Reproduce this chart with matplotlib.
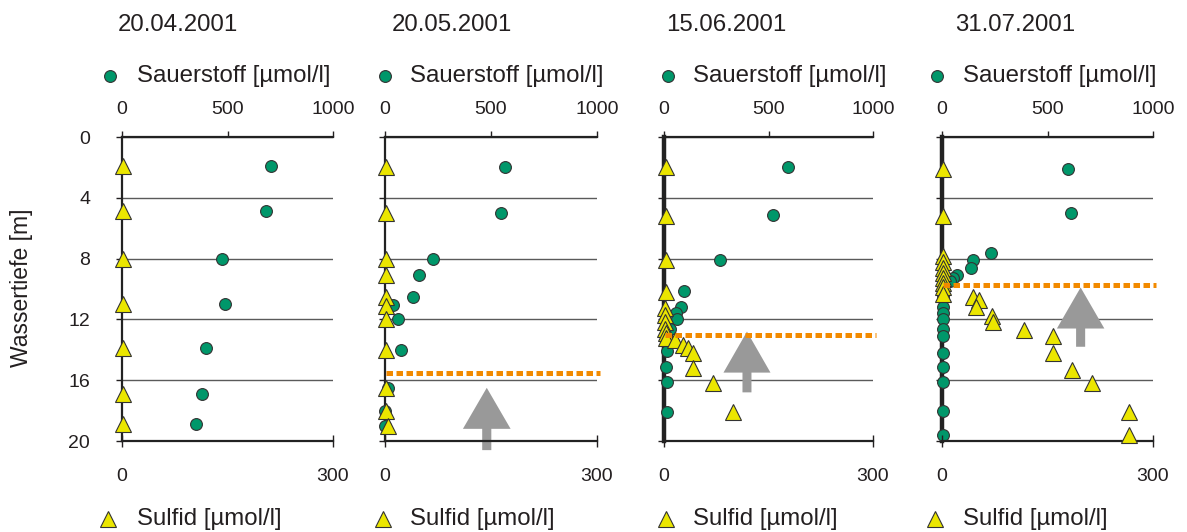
"""Sauerstoff- und Sulfidprofile, vier Termine 2001."""

import matplotlib
matplotlib.use("Agg")
import matplotlib.pyplot as plt
from matplotlib.lines import Line2D
from matplotlib.patches import FancyArrow

plt.rcParams["font.family"] = ["Liberation Sans", "DejaVu Sans"]

W, H = 1187, 532
TEXT = "#231F20"
GREEN = "#00976A"
YELLOW = "#EBE600"
ORANGE = "#F28A00"
ARROW = "#999999"

dates = ["20.04.2001", "20.05.2001", "15.06.2001", "31.07.2001"]

# Sauerstoff [umol/l] gegen Tiefe [m]
o2_depth_1 = [1.9, 4.9, 8.0, 11.0, 13.9, 16.9, 18.9]
o2_1 = [705, 681, 476, 490, 396, 381, 352]
o2_depth_2 = [2.0, 5.0, 8.0, 9.1, 10.5, 11.05, 12.0, 14.0, 16.5, 18.0, 19.0]
o2_2 = [567, 548, 228, 162, 133, 38, 62, 76, 14, 2, 0]
o2_depth_3 = [2.0, 5.1, 8.1, 10.1, 11.2, 11.6, 12.0, 12.6, 13.2, 14.1, 15.1, 16.1, 18.1]
o2_3 = [593, 522, 268, 96, 81, 57, 62, 30, 10, 12, 10, 12, 12]
o2_depth_4 = [2.1, 5.0, 7.6, 8.1, 8.6, 9.1, 9.3, 9.5, 10.5, 11.2, 11.6, 12.0,
              12.6, 13.1, 14.2, 15.1, 16.1, 18.05, 19.6]
o2_4 = [597, 611, 232, 145, 137, 70, 53, 38, 4, 4, 4, 4, 4, 4, 4, 4, 4, 4, 4]

# Sulfid [umol/l] gegen Tiefe [m]
s_depth_1 = [1.9, 4.9, 8.0, 11.0, 13.9, 16.9, 18.9]
s_1 = [1, 1, 1, 1, 1, 1, 1]
s_depth_2 = [2.0, 5.0, 8.0, 9.1, 10.5, 11.1, 12.0, 14.0, 16.5, 18.0, 19.0]
s_2 = [1, 1, 1, 1, 1, 1, 1, 1, 1, 2, 4]
s_depth_3 = [2.0, 5.2, 8.1, 10.2, 11.25, 11.7, 12.15, 12.6, 12.9, 13.2, 13.35,
             13.7, 13.9, 14.2, 15.2, 16.2, 18.1]
s_3 = [3, 3, 3, 3, 2, 2, 2, 2, 3, 3, 16, 27, 34, 42, 42, 70, 99]
s_depth_4 = [2.1, 5.2, 7.8, 8.2, 8.6, 8.95, 9.3, 9.6, 9.9, 10.3, 10.5, 10.7,
             11.2, 11.8, 12.2, 12.7, 13.1, 14.2, 15.3, 16.2, 18.1, 19.6]
s_4 = [1, 1, 1, 1, 1, 1, 1, 1, 1, 1, 44, 53, 49, 71, 72, 117, 158, 158,
       185, 213, 266, 266]

o2_series = [(o2_1, o2_depth_1), (o2_2, o2_depth_2), (o2_3, o2_depth_3), (o2_4, o2_depth_4)]
s_series = [(s_1, s_depth_1), (s_2, s_depth_2), (s_3, s_depth_3), (s_4, s_depth_4)]

# Redoxgrenze (orange) und Pfeil, nur Termine 2-4
boundary_depth = [None, 15.5, 13.0, 9.75]
arrow_x = [None, 480, 397, 657]
arrow_tip = [None, 16.5, 12.8, 9.9]
arrow_end = [None, 20.6, 16.8, 13.8]

depth_ticks = [0, 4, 8, 12, 16, 20]
o2_ticks = [0, 500, 1000]
s_ticks = [0, 300]

# layout in pixels
ax_left = [122, 385, 664, 942]
ax_right = [333, 597, 873, 1153]
ax_top, ax_bottom = 137, 441
title_x = [118, 392, 666, 955]
leg_o2_marker = [110, 385, 668, 937]
leg_s_marker = [108, 383, 666, 935]
leg_text_x = [137, 410, 693, 963]

BIG = 17.3


def main() -> None:
    fig = plt.figure(figsize=(W / 100, H / 100), dpi=100)

    for i in range(4):
        rect = [ax_left[i] / W, 1 - ax_bottom / H,
                (ax_right[i] - ax_left[i]) / W, (ax_bottom - ax_top) / H]
        ax = fig.add_axes(rect)
        twin = ax.twiny()

        ax.set_ylim(20, 0)
        ax.set_xlim(0, 1000)
        ax.set_yticks(depth_ticks)
        ax.set_xticks(o2_ticks)
        ax.xaxis.set_ticks_position("top")
        ax.xaxis.set_label_position("top")
        ax.tick_params(axis="x", direction="out", length=4, width=1, pad=10,
                       labelsize=14, colors=TEXT, labeltop=True,
                       labelbottom=False)
        ax.tick_params(axis="y", direction="out", length=4, width=1, pad=19,
                       labelsize=14, colors=TEXT)
        if i > 0:
            ax.tick_params(axis="y", labelleft=False)
        ax.yaxis.grid(True, color="#5a5a5a", linewidth=1)
        ax.set_axisbelow(True)
        for side in ("right", "bottom"):
            ax.spines[side].set_visible(False)
        ax.spines["top"].set_linewidth(1.6)
        ax.spines["left"].set_linewidth(1.6 if i < 2 else 3.2)
        for side in ("top", "left"):
            ax.spines[side].set_color("#222222")

        vals, depth = o2_series[i]
        ax.plot(vals, depth, "o", color=GREEN, markeredgecolor="#333333",
                markeredgewidth=0.8, markersize=8.5, clip_on=False, zorder=3)

        twin.set_xlim(0, 300)
        twin.set_xticks(s_ticks)
        twin.xaxis.set_ticks_position("bottom")
        twin.xaxis.set_label_position("bottom")
        twin.tick_params(axis="x", direction="inout", length=9, width=1, pad=15,
                         labelsize=14, colors=TEXT, labelbottom=True,
                         labeltop=False)
        for side in ("right", "top", "left"):
            twin.spines[side].set_visible(False)
        twin.spines["bottom"].set_linewidth(1.6)
        twin.spines["bottom"].set_color("#222222")

        if arrow_x[i] is not None:
            ax.add_patch(FancyArrow(
                arrow_x[i], arrow_end[i], 0, arrow_tip[i] - arrow_end[i],
                width=43, head_width=225, head_length=2.7,
                length_includes_head=True, color=ARROW, linewidth=0,
                clip_on=False, zorder=2))

        svals, sdepth = s_series[i]
        twin.plot(svals, sdepth, "^", color=YELLOW, markeredgecolor="#333333",
                  markeredgewidth=0.8, markersize=11, clip_on=False, zorder=4)

        if boundary_depth[i] is not None:
            twin.plot([2, 304], [boundary_depth[i]] * 2, color=ORANGE,
                      linewidth=3.6, linestyle=(0, (1.3, 0.7)),
                      dash_capstyle="butt", clip_on=False, zorder=5)

        fig.text(title_x[i] / W, 1 - 25 / H, dates[i], fontsize=BIG,
                 color=TEXT, ha="left", va="center")

    # legends as free marker + text
    lax = fig.add_axes([0, 0, 1, 1])
    lax.set_xlim(0, W)
    lax.set_ylim(H, 0)
    lax.axis("off")
    for i in range(4):
        lax.add_line(Line2D([leg_o2_marker[i]], [76], marker="o", color=GREEN,
                            markeredgecolor="#333333", markeredgewidth=0.8,
                            markersize=8.5, linestyle="none"))
        lax.text(leg_text_x[i], 76, "Sauerstoff [µmol/l]", fontsize=BIG,
                 color=TEXT, ha="left", va="center")
        lax.add_line(Line2D([leg_s_marker[i]], [519], marker="^", color=YELLOW,
                            markeredgecolor="#333333", markeredgewidth=0.8,
                            markersize=11, linestyle="none"))
        lax.text(leg_text_x[i], 519, "Sulfid [µmol/l]", fontsize=BIG,
                 color=TEXT, ha="left", va="center")

    fig.text(22 / W, 1 - 288 / H, "Wassertiefe [m]", rotation=90, fontsize=16.5,
             color=TEXT, ha="center", va="center")

    fig.savefig("out.png", dpi=100)
    plt.close(fig)


if __name__ == "__main__":
    main()
